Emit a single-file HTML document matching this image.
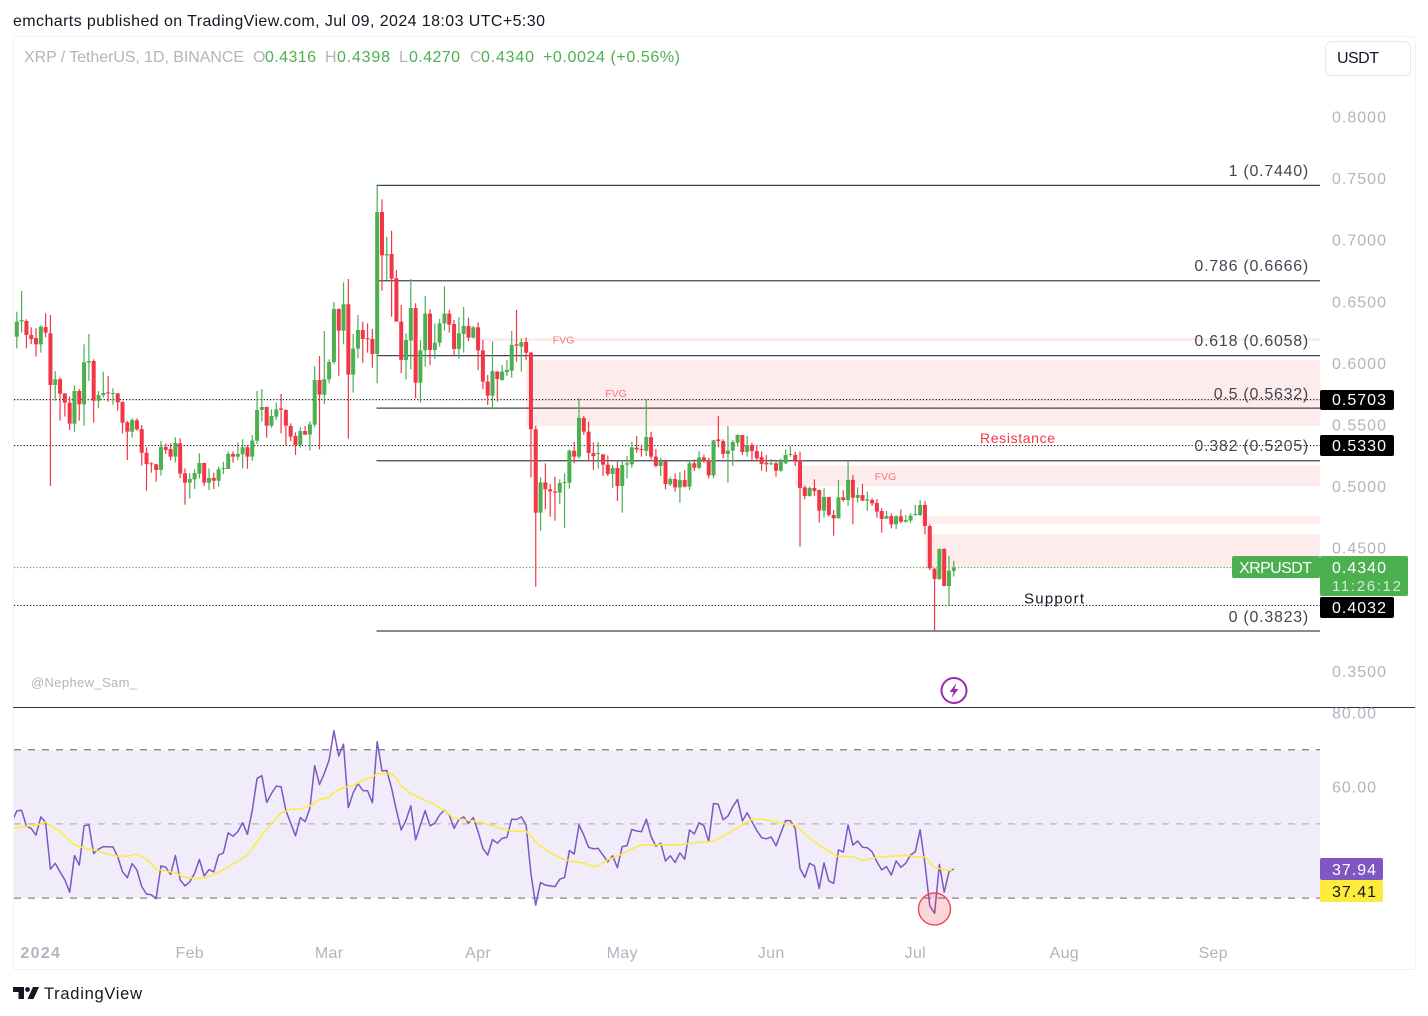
<!DOCTYPE html>
<html lang="en">
<head>
<meta charset="utf-8">
<title>XRP / TetherUS chart</title>
<style>
html,body{margin:0;padding:0;background:#fff;width:1428px;height:1016px;overflow:hidden}
svg{display:block;font-family:"Liberation Sans",sans-serif}
</style>
</head>
<body>
<svg id="chart" width="1428" height="1016" viewBox="0 0 1428 1016">
<defs><clipPath id="plot-clip"><rect x="14" y="37" width="1306" height="932"/></clipPath></defs>
<text x="13" y="26" font-size="16" fill="#131722" textLength="532">emcharts published on TradingView.com, Jul 09, 2024 18:03 UTC+5:30</text>
<rect x="13.5" y="36.5" width="1402" height="933" fill="#fff" stroke="#f0f3fa"/>
<g id="zones"></g>
<rect x="14" y="750" width="1306" height="148" fill="#f0ecf9"/>
<g id="levels"></g>
<g id="candles" clip-path="url(#plot-clip)"></g>
<g font-size="16">
<text x="24" y="62" fill="#b2b5be" textLength="220">XRP / TetherUS, 1D, BINANCE</text>
<text x="253" y="62" fill="#b2b5be">O</text>
<text x="265" y="62" fill="#4caf50" textLength="51">0.4316</text>
<text x="325" y="62" fill="#b2b5be">H</text>
<text x="337" y="62" fill="#4caf50" textLength="53">0.4398</text>
<text x="399" y="62" fill="#b2b5be">L</text>
<text x="409" y="62" fill="#4caf50" textLength="51">0.4270</text>
<text x="470" y="62" fill="#b2b5be">C</text>
<text x="481" y="62" fill="#4caf50" textLength="53">0.4340</text>
<text x="543" y="62" fill="#4caf50" textLength="137">+0.0024 (+0.56%)</text>
</g>
<g>
<rect x="1325.5" y="41.5" width="85" height="34" rx="6" fill="#fff" stroke="#e6e9f0"/>
<text x="1337" y="63" font-size="16" fill="#131722" textLength="42">USDT</text>
</g>
<g id="price-axis"></g>
<g id="fib-labels"></g>
<g>
<text x="563.5" y="343.5" font-size="10.5" fill="#f7737d" text-anchor="middle">FVG</text>
<text x="616" y="397" font-size="10.5" fill="#f7737d" text-anchor="middle">FVG</text>
<text x="885.5" y="480" font-size="10.5" fill="#f7737d" text-anchor="middle">FVG</text>
<text x="980" y="443" font-size="14" fill="#f23645" textLength="75">Resistance</text>
<text x="1024" y="603.5" font-size="15" fill="#131722" textLength="60">Support</text>
<text x="31" y="687" font-size="13" fill="#b2b5be" textLength="106">@Nephew_Sam_</text>
</g>
<g>
<rect x="1232" y="556" width="88" height="22" rx="2" fill="#4caf50"/>
<text x="1239" y="573" font-size="16" fill="#fff" textLength="73">XRPUSDT</text>
</g>
<g>
<rect x="1320" y="556" width="88" height="40" rx="2" fill="#4caf50"/>
<text x="1332" y="573" font-size="16" fill="#fff" textLength="54">0.4340</text>
<text x="1332" y="591" font-size="15" fill="#d4ecd5" textLength="69">11:26:12</text>
</g>
<g><rect x="1320" y="390" width="74" height="20" rx="2" fill="#000"/><text x="1332" y="405" font-size="16" fill="#fff" textLength="54">0.5703</text></g>
<g><rect x="1320" y="435" width="74" height="21" rx="2" fill="#000"/><text x="1332" y="451" font-size="16" fill="#fff" textLength="54">0.5330</text></g>
<g><rect x="1320" y="597" width="74" height="21" rx="2" fill="#000"/><text x="1332" y="613" font-size="16" fill="#fff" textLength="54">0.4032</text></g>
<g>
<circle cx="954" cy="690.5" r="12.5" fill="#fff" stroke="#9c27b0" stroke-width="2"/>
<path d="M956.5 683 L949.5 692 L953.5 692 L951.5 698 L958.5 689 L954.5 689 Z" fill="#9c27b0"/>
</g>
<line x1="13" y1="707.5" x2="1415" y2="707.5" stroke="#2a2e39"/>
<g id="rsi-axis"></g>
<g id="rsi-lines" clip-path="url(#plot-clip)"></g>
<circle cx="934.5" cy="909" r="16" fill="#f23645" fill-opacity="0.2" stroke="#f23645" stroke-width="1.3"/>
<g><rect x="1320" y="858" width="63" height="22" rx="2" fill="#7e57c2"/><text x="1332" y="875" font-size="16" fill="#fff" textLength="44">37.94</text></g>
<g><rect x="1320" y="880" width="63" height="22" rx="2" fill="#ffeb3b"/><text x="1332" y="897" font-size="16" fill="#131722" textLength="44">37.41</text></g>
<g id="time-axis"></g>
<g>
<path d="M13 987 H24 V999 H18.5 V992 H13 Z" fill="#131722"/>
<circle cx="27.5" cy="989.5" r="2.4" fill="#131722"/>
<path d="M33 987 H39 L33.5 999 H27.5 Z" fill="#131722"/>
<text x="44" y="999" font-size="16.5" fill="#131722" textLength="98">TradingView</text>
</g>
</svg>
<script>
const opens=[.6339,.6217,.6341,.6344,.6231,.6206,.6155,.6295,.6244,.5825,
.5871,.5757,.5681,.5511,.5776,.5668,.6006,.6019,.5697,.5743,
.5765,.5754,.5757,.5687,.5522,.5446,.5538,.5467,.5275,.5189,
.5181,.5135,.5321,.5305,.5243,.5351,.5108,.5032,.5059,.5105,
.5192,.5032,.5070,.5048,.5143,.5143,.5265,.5243,.5262,.5319,
.5243,.5373,.5622,.5646,.5494,.5568,.5635,.5622,.5492,.5411,
.5338,.5451,.5422,.5503,.5865,.5746,.5871,.6011,.6442,.6266,
.6480,.5909,.6120,.6271,.6204,.6198,.6076,.7229,.6877,.6888,
.6691,.6339,.6028,.6185,.6450,.5844,.6106,.6404,.6109,.6168,
.6325,.6404,.6320,.6117,.6239,.6304,.6209,.6293,.6106,.5852,
.5738,.5933,.5865,.5930,.5941,.6155,.6136,.6174,.6087,.5465,
.4788,.5034,.4978,.4961,.4951,.5032,.5032,.5291,.5243,.5557,
.5446,.5272,.5264,.5262,.5178,.5102,.5151,.5005,.5178,.5181,
.5316,.5305,.5291,.5402,.5243,.5167,.5207,.5018,.5061,.4994,
.5053,.4999,.5189,.5153,.5237,.5216,.5091,.5383,.5370,.5265,
.5292,.5357,.5419,.5281,.5338,.5289,.5240,.5194,.5181,.5189,
.5129,.5189,.5257,.5257,.5213,.4994,.4924,.4989,.4972,.4805,
.4916,.4769,.4742,.4913,.4891,.5054,.4908,.4932,.4886,.4891,
.4867,.4802,.4740,.4761,.4694,.4759,.4715,.4724,.4769,.4769,
.4851,.4680,.4334,.4250,.4494,.4193,.4316];
const highs=[.6466,.6420,.6588,.6358,.6293,.6285,.6309,.6406,.6393,.5938,
.5887,.5757,.5730,.5822,.5792,.6155,.6239,.6033,.5776,.5933,
.5898,.5798,.5760,.5692,.5533,.5554,.5554,.5500,.5319,.5197,
.5183,.5370,.5351,.5351,.5400,.5392,.5148,.5108,.5140,.5270,
.5194,.5148,.5113,.5162,.5202,.5284,.5286,.5359,.5384,.5338,
.5419,.5776,.5792,.5649,.5627,.5681,.5752,.5627,.5513,.5440,
.5481,.5492,.5530,.5979,.6060,.6263,.6033,.6498,.6447,.6658,
.6685,.6239,.6393,.6339,.6325,.6279,.7443,.7332,.7029,.7077,
.6758,.6474,.6244,.6685,.6488,.6190,.6547,.6439,.6325,.6360,
.6626,.6434,.6352,.6374,.6458,.6371,.6304,.6333,.6190,.5906,
.6177,.5938,.5987,.6028,.6263,.6434,.6203,.6211,.6095,.5494,
.5075,.5189,.5021,.5080,.5059,.5107,.5302,.5364,.5716,.5573,
.5527,.5359,.5362,.5262,.5253,.5175,.5202,.5216,.5248,.5364,
.5410,.5332,.5708,.5446,.5305,.5235,.5207,.5080,.5107,.5115,
.5134,.5216,.5221,.5289,.5259,.5235,.5378,.5573,.5384,.5492,
.5378,.5424,.5419,.5411,.5357,.5338,.5284,.5257,.5224,.5202,
.5230,.5303,.5330,.5284,.5284,.5008,.5000,.5059,.4978,.4986,
.4916,.4810,.5054,.4972,.5211,.5094,.4994,.5021,.4959,.4905,
.4899,.4824,.4802,.4783,.4769,.4815,.4769,.4783,.4851,.4891,
.4883,.4694,.4337,.4499,.4499,.4439,.4398];
const lows=[.6217,.6122,.6250,.6122,.6157,.6055,.6087,.6212,.5005,.5697,
.5535,.5568,.5459,.5446,.5535,.5494,.5857,.5519,.5635,.5724,
.5689,.5665,.5616,.5432,.5216,.5397,.5454,.5170,.4967,.5113,
.5040,.5089,.5265,.5213,.5197,.5067,.4853,.4902,.4980,.5067,
.5005,.4972,.4980,.4999,.5102,.5143,.5194,.5216,.5148,.5145,
.5210,.5346,.5527,.5397,.5478,.5541,.5432,.5332,.5370,.5257,
.5316,.5419,.5292,.5481,.5302,.5670,.5838,.5995,.5900,.6155,
.5389,.5763,.6041,.6006,.6087,.5965,.5838,.6590,.6677,.6379,
.6339,.5920,.5871,.5952,.5717,.5681,.5974,.5987,.6036,.6136,
.6266,.6250,.6060,.6036,.6087,.6182,.6203,.5947,.5790,.5663,
.5627,.5690,.5860,.5898,.5884,.6014,.5933,.6028,.5075,.4187,
.4642,.4815,.4756,.4723,.4858,.4666,.4983,.5189,.5226,.5419,
.5207,.5134,.5148,.5086,.5086,.4991,.4883,.4788,.5067,.5153,
.5275,.5243,.5248,.5221,.5156,.5086,.4978,.5005,.4959,.4869,
.4994,.4972,.5126,.5140,.5194,.5067,.5067,.5318,.5230,.5032,
.5170,.5324,.5257,.5243,.5208,.5205,.5129,.5121,.5175,.5081,
.5121,.5184,.5243,.5167,.4512,.4897,.4918,.4924,.4707,.4748,
.4756,.4602,.4742,.4878,.4843,.4694,.4870,.4883,.4802,.4843,
.4748,.4626,.4737,.4661,.4656,.4702,.4707,.4707,.4764,.4761,
.4613,.4323,.3831,.4242,.4193,.4039,.4270];
const closes=[.6217,.6339,.6352,.6231,.6198,.6155,.6298,.6250,.5825,.5871,
.5754,.5681,.5511,.5776,.5668,.6009,.6019,.5697,.5743,.5760,
.5757,.5760,.5684,.5519,.5446,.5541,.5465,.5275,.5183,.5181,
.5135,.5321,.5297,.5243,.5354,.5105,.5032,.5062,.5110,.5192,
.5032,.5070,.5048,.5140,.5151,.5265,.5243,.5265,.5319,.5243,
.5375,.5622,.5646,.5494,.5573,.5627,.5624,.5494,.5405,.5338,
.5451,.5422,.5505,.5865,.5746,.5871,.6011,.6442,.6266,.6480,
.5909,.6120,.6271,.6198,.6198,.6076,.7229,.6877,.6888,.6688,
.6339,.6028,.6190,.6450,.5844,.6106,.6404,.6109,.6168,.6325,
.6404,.6314,.6117,.6244,.6304,.6209,.6293,.6106,.5852,.5738,
.5938,.5874,.5933,.5947,.6150,.6144,.6174,.6087,.5465,.4788,
.5034,.4978,.4961,.4951,.5029,.5037,.5291,.5243,.5559,.5446,
.5272,.5248,.5272,.5178,.5102,.5151,.5005,.5175,.5189,.5318,
.5302,.5299,.5402,.5243,.5167,.5202,.5021,.5061,.4994,.5053,
.4999,.5189,.5153,.5237,.5205,.5091,.5375,.5370,.5265,.5292,
.5362,.5419,.5281,.5338,.5289,.5230,.5184,.5181,.5189,.5129,
.5208,.5257,.5265,.5202,.4989,.4924,.4989,.4964,.4805,.4916,
.4769,.4742,.4913,.4891,.5054,.4910,.4932,.4886,.4897,.4864,
.4797,.4737,.4761,.4694,.4759,.4715,.4729,.4764,.4778,.4851,
.4680,.4337,.4250,.4494,.4193,.4318,.4340];
const rsiValues=[50.7,53.6,53.8,49.5,48.9,47.1,52.0,50.5,37.9,39.5,
37.2,35.0,31.7,41.6,39.0,49.6,49.9,42.1,43.3,44.0,
43.9,43.9,41.3,37.2,35.6,39.4,37.7,33.2,31.2,31.0,
30.0,38.8,38.4,36.5,41.6,35.0,33.4,34.5,36.8,40.5,
36.1,37.8,37.2,41.7,42.3,47.7,46.8,48.0,50.4,47.3,
53.8,62.4,63.1,55.9,58.3,60.3,60.1,53.7,50.3,46.9,
51.8,50.7,54.3,65.8,60.7,63.7,67.3,75.2,68.4,71.6,
54.5,58.5,61.0,59.1,59.0,55.8,72.3,64.4,64.5,59.7,
53.8,48.5,51.1,55.0,45.8,49.8,53.7,49.6,50.3,52.5,
53.8,52.5,48.9,51.3,52.0,50.3,51.8,48.0,43.5,41.7,
45.9,44.9,46.2,46.5,51.4,51.3,52.0,49.8,36.8,28.2,
34.3,33.6,33.4,33.2,35.2,35.7,42.9,42.0,49.8,47.1,
43.8,43.4,43.5,41.7,39.9,41.5,38.3,44.0,44.2,48.6,
48.2,48.0,51.4,46.7,44.1,44.9,40.1,41.5,39.7,42.3,
40.6,48.5,47.4,50.4,49.6,45.3,55.6,55.4,51.2,52.2,
54.8,56.7,50.9,53.1,50.7,48.3,46.4,46.1,46.6,44.2,
47.6,51.0,51.0,48.9,38.1,35.7,39.5,38.8,32.7,39.6,
34.7,34.1,43.1,42.5,49.8,44.4,45.5,43.8,43.7,42.6,
39.9,37.7,38.6,36.3,40.1,38.4,39.5,41.7,42.6,48.5,
39.5,28.0,26.0,39.2,31.7,37.2,37.94];
const maBars=[1,4,6,8,11,13,14,16,18,21,23,25,27,29,31,33,35,37,39,41,43,46,48,50,53,55,57,59,61,63,65,67,68,70,72,74,76,77,80,81,82,84,87,89,91,93,96,99,102,105,108,110,112,116,120,122,123,125,128,131,132,136,140,143,147,149,152,155,157,160,162,164,167,170,173,176,178,181,184,187,189,191,193,195,197];
const maValues=[48.9,49.5,49.7,50.6,48.0,45.6,44.4,43.6,43.1,42.0,41.4,41.4,42.0,40.6,37.9,37.4,36.9,35.7,35.4,35.5,36.5,38.5,40.1,41.6,47.1,50.3,53.1,54.0,54.2,54.9,56.7,57.2,58.6,59.9,60.4,61.9,62.7,63.7,63.6,62.4,60.4,58.3,56.5,55.2,53.7,51.6,51.1,50.4,49.1,48.2,48.1,45.3,43.1,40.4,39.5,38.6,38.8,40.4,42.0,44.0,44.4,44.5,44.5,45.1,45.4,46.8,49.1,51.4,51.4,50.7,50.1,49.8,46.2,43.5,41.3,41.3,40.2,41.1,41.4,41.7,41.2,41.1,38.4,37.7,37.41];
const priceTicks=[0.8,0.75,0.7,0.65,0.6,0.55,0.5,0.45,0.35];
const rsiTicks=[80,60];
const rsiGuides=[70,50,30];
const monthLabels=['2024','Feb','Mar','Apr','May','Jun','Jul','Aug','Sep'];
const monthBars=[6,37,66,97,127,158,188,219,250];
const fibRatios=['1','0.786','0.618','0.5','0.382','0'];
const fibPrices=[0.7440,0.6666,0.6058,0.5632,0.5205,0.3823];
const hLevels=[0.5703,0.5330,0.4340,0.4032];
const fvgTop=[0.6206,0.6028,0.5170,0.4761,0.4613];
const fvgBottom=[0.6182,0.5492,0.5005,0.4696,0.4343];
const fvgStartBar=[96,107,163,189,190];

const NS='http://www.w3.org/2000/svg';
const xBar=i=>12+4.805*i;
const yPrice=p=>117+(0.8-p)*1232;
const yRsi=v=>713+(80-v)*3.71;
function mk(tag,parent,attrs,text){
  const el=document.createElementNS(NS,tag);
  for(const k in attrs)el.setAttribute(k,attrs[k]);
  if(text!==undefined)el.textContent=text;
  parent.appendChild(el);
  return el;
}
const UP='#4caf50',DOWN='#f23645';

const zones=document.getElementById('zones');
fvgTop.forEach((t,i)=>{
  const r=mk('rect',zones,{x:xBar(fvgStartBar[i]),y:yPrice(t),width:1320-xBar(fvgStartBar[i]),height:yPrice(fvgBottom[i])-yPrice(t),fill:'#feecec'});
  
  
});

const levels=document.getElementById('levels');
fibPrices.forEach(p=>{
  const y=yPrice(p)-0.6;
  const l=mk('line',levels,{x1:376.5,y1:y,x2:1320,y2:y,stroke:'#434651','stroke-width':1.3});
  
  
});
hLevels.forEach((p,i)=>{
  const y=yPrice(p)-0.4;
  const l=mk('line',levels,{x1:14,y1:y,x2:1320,y2:y,stroke:p===0.4340?'#4caf50':'#131722','stroke-width':1.2,'stroke-dasharray':'1.2 2'});
  
  
});

const candles=document.getElementById('candles');
opens.forEach((o,i)=>{
  const c=closes[i],col=c>=o?UP:DOWN,x=xBar(i);
  const g=mk('g',candles,{});
  
  
  mk('line',g,{x1:x,x2:x,y1:yPrice(highs[i]),y2:yPrice(lows[i]),stroke:col,'stroke-width':1.2});
  const top=yPrice(Math.max(o,c)),bot=yPrice(Math.min(o,c));
  mk('rect',g,{x:x-2,y:top,width:4,height:Math.max(bot-top,1),fill:col});
});

const priceAxis=document.getElementById('price-axis');
priceTicks.forEach(t=>{
  const el=mk('text',priceAxis,{x:1332,y:yPrice(t)+5.5,'font-size':16,fill:'#b2b5be',textLength:54},t.toFixed(4));
  
  
});

const fibLabels=document.getElementById('fib-labels');
fibPrices.forEach((p,i)=>{
  const el=mk('text',fibLabels,{x:1309,y:Math.round(yPrice(p))-10,'font-size':16,fill:'#434651','text-anchor':'end','letter-spacing':'0.75'},fibRatios[i]+' ('+p.toFixed(4)+')');
  
  
});

const rsiAxis=document.getElementById('rsi-axis');
rsiTicks.forEach(t=>{
  const el=mk('text',rsiAxis,{x:1332,y:yRsi(t)+5.5,'font-size':16,fill:'#b2b5be',textLength:44},t.toFixed(2));
  
  
});

const rsiLines=document.getElementById('rsi-lines');
rsiGuides.forEach(v=>{
  const y=yRsi(v)-0.4;
  const l=mk('line',rsiLines,{x1:14,y1:y,x2:1320,y2:y,stroke:'#787b86','stroke-width':1.3,'stroke-dasharray':'7 7','stroke-opacity':v===50?0.5:0.9});
  
  
});
const rsiPts=rsiValues.map((v,i)=>xBar(i).toFixed(1)+','+yRsi(v).toFixed(1)).join(' ');
const maPts=maValues.map((v,i)=>xBar(maBars[i]-1).toFixed(1)+','+yRsi(v).toFixed(1)).join(' ');
const rsiLine=mk('polyline',rsiLines,{points:rsiPts,fill:'none',stroke:'#7e57c2','stroke-width':1.5,'stroke-linejoin':'round'});


const maLine=mk('polyline',rsiLines,{points:maPts,fill:'none',stroke:'#ffeb3b','stroke-width':1.5,'stroke-linejoin':'round'});



const timeAxis=document.getElementById('time-axis');
monthLabels.forEach((m,i)=>{
  const el=mk('text',timeAxis,{x:xBar(monthBars[i]),y:958,'font-size':16,fill:'#b2b5be','text-anchor':'middle','font-weight':m==='2024'?'bold':'normal','letter-spacing':m==='2024'?'1.3':'0.3'},m);
  
  
});
</script>
</body>
</html>
